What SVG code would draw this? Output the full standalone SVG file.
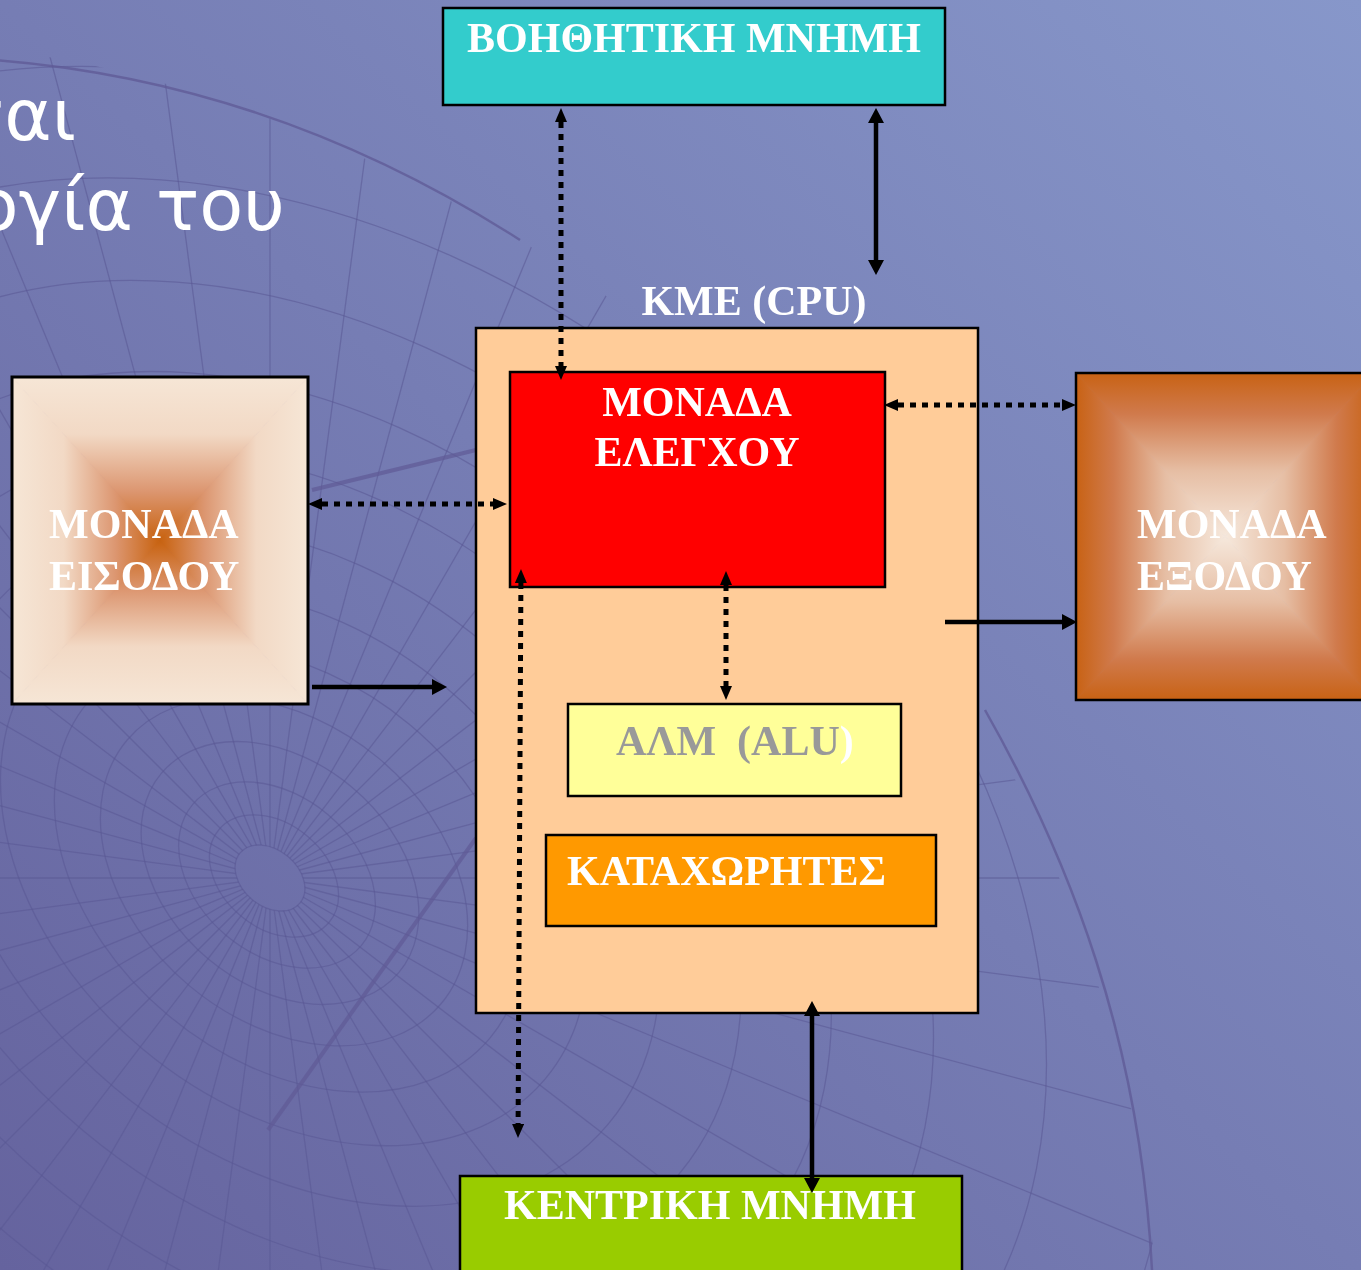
<svg xmlns="http://www.w3.org/2000/svg" width="1361" height="1270" viewBox="0 0 1361 1270">
  <defs>
    <style>
      .lbl { font-family: "Liberation Serif", "Times New Roman", serif; font-weight: bold; font-size: 42px; fill: #ffffff; }
      .title { font-family: "DejaVu Sans", "Noto Sans", sans-serif; font-weight: normal; font-size: 72px; fill: #ffffff; }
      .box { stroke: #000000; stroke-width: 2.5; }
      .grid { fill: none; stroke: #5a5794; stroke-opacity: 0.55; stroke-width: 1.3; }
      .solid { fill: none; stroke: #000000; stroke-width: 4.5; }
      .dotted { fill: none; stroke: #000000; stroke-width: 5; stroke-dasharray: 6 6; }
    </style>

    <!-- slide background -->
    <linearGradient id="bg" x1="1" y1="0" x2="0" y2="1">
      <stop offset="0" stop-color="#8797CA"/>
      <stop offset="1" stop-color="#65639E"/>
    </linearGradient>

    <!-- input unit: dark centre, light rim -->
    <linearGradient id="inStops">
      <stop offset="0" stop-color="#F6E6D6"/>
      <stop offset="0.35" stop-color="#F2D9C5"/>
      <stop offset="0.7" stop-color="#DC9670"/>
      <stop offset="1" stop-color="#C8620F"/>
    </linearGradient>
    <linearGradient id="inT" href="#inStops" gradientUnits="userSpaceOnUse" x1="0" y1="377" x2="0" y2="540.5"/>
    <linearGradient id="inB" href="#inStops" gradientUnits="userSpaceOnUse" x1="0" y1="704" x2="0" y2="540.5"/>
    <linearGradient id="inL" href="#inStops" gradientUnits="userSpaceOnUse" x1="12" y1="0" x2="160" y2="0"/>
    <linearGradient id="inR" href="#inStops" gradientUnits="userSpaceOnUse" x1="308" y1="0" x2="160" y2="0"/>

    <!-- output unit: light centre, dark rim -->
    <linearGradient id="outStops">
      <stop offset="0" stop-color="#C86214"/>
      <stop offset="0.25" stop-color="#D07A4C"/>
      <stop offset="0.6" stop-color="#E6BEA4"/>
      <stop offset="1" stop-color="#F6E8DC"/>
    </linearGradient>
    <linearGradient id="outT" href="#outStops" gradientUnits="userSpaceOnUse" x1="0" y1="373" x2="0" y2="536.5"/>
    <linearGradient id="outB" href="#outStops" gradientUnits="userSpaceOnUse" x1="0" y1="700" x2="0" y2="536.5"/>
    <linearGradient id="outL" href="#outStops" gradientUnits="userSpaceOnUse" x1="1076" y1="0" x2="1225" y2="0"/>
    <linearGradient id="outR" href="#outStops" gradientUnits="userSpaceOnUse" x1="1374" y1="0" x2="1225" y2="0"/>

    <!-- arrowheads -->
    <marker id="sa" viewBox="0 0 15 16" refX="0" refY="8" markerWidth="15" markerHeight="16" markerUnits="userSpaceOnUse" orient="auto-start-reverse">
      <path d="M0 0 L15 8 L0 16 Z" fill="#000"/>
    </marker>
    <marker id="da" viewBox="0 0 14 12" refX="0" refY="6" markerWidth="14" markerHeight="12" markerUnits="userSpaceOnUse" orient="auto-start-reverse">
      <path d="M0 0 L14 6 L0 12 Z" fill="#000"/>
    </marker>

    <!-- wireframe globe -->
    <clipPath id="globe">
      <path d="M-5 50 C200 70 450 180 640 320 C800 440 930 600 990 730 C1080 900 1140 1080 1155 1270 L-5 1270 Z"/>
    </clipPath>
    <mask id="poleHole" maskUnits="userSpaceOnUse" x="0" y="0" width="1361" height="1270">
      <rect x="0" y="0" width="1361" height="1270" fill="#fff"/>
      <ellipse cx="270" cy="878" rx="39" ry="28" transform="rotate(40 270 878)" fill="#000"/>
    </mask>
    <line id="ray" x1="270" y1="878" x2="1870" y2="878"/>
  </defs>

  <!-- background -->
  <rect x="0" y="0" width="1361" height="1270" fill="url(#bg)"/>

  <g clip-path="url(#globe)">
    <g class="grid">
      <ellipse cx="270" cy="878" rx="39" ry="28" transform="rotate(40 270 878)"/>
      <ellipse cx="274" cy="876" rx="72" ry="52" transform="rotate(40 274 876)"/>
      <ellipse cx="277" cy="875" rx="110" ry="79" transform="rotate(40 277 875)"/>
      <ellipse cx="280" cy="873" rx="155" ry="112" transform="rotate(40 280 873)"/>
      <ellipse cx="284" cy="872" rx="205" ry="148" transform="rotate(40 284 872)"/>
      <ellipse cx="289" cy="870" rx="262" ry="189" transform="rotate(40 289 870)"/>
      <ellipse cx="294" cy="868" rx="328" ry="236" transform="rotate(40 294 868)"/>
      <ellipse cx="300" cy="866" rx="402" ry="289" transform="rotate(40 300 866)"/>
      <ellipse cx="307" cy="863" rx="485" ry="349" transform="rotate(40 307 863)"/>
      <ellipse cx="314" cy="861" rx="578" ry="416" transform="rotate(40 314 861)"/>
      <ellipse cx="323" cy="858" rx="682" ry="491" transform="rotate(40 323 858)"/>
      <ellipse cx="332" cy="854" rx="798" ry="575" transform="rotate(40 332 854)"/>
      <ellipse cx="342" cy="850" rx="925" ry="666" transform="rotate(40 342 850)"/>
    </g>
    <g class="grid" mask="url(#poleHole)">
      <use href="#ray" transform="rotate(0 270 878)"/>
      <use href="#ray" transform="rotate(7.5 270 878)"/>
      <use href="#ray" transform="rotate(15 270 878)"/>
      <use href="#ray" transform="rotate(22.5 270 878)"/>
      <use href="#ray" transform="rotate(30 270 878)"/>
      <use href="#ray" transform="rotate(37.5 270 878)"/>
      <use href="#ray" transform="rotate(45 270 878)"/>
      <use href="#ray" transform="rotate(52.5 270 878)"/>
      <use href="#ray" transform="rotate(60 270 878)"/>
      <use href="#ray" transform="rotate(67.5 270 878)"/>
      <use href="#ray" transform="rotate(75 270 878)"/>
      <use href="#ray" transform="rotate(82.5 270 878)"/>
      <use href="#ray" transform="rotate(90 270 878)"/>
      <use href="#ray" transform="rotate(97.5 270 878)"/>
      <use href="#ray" transform="rotate(105 270 878)"/>
      <use href="#ray" transform="rotate(112.5 270 878)"/>
      <use href="#ray" transform="rotate(120 270 878)"/>
      <use href="#ray" transform="rotate(127.5 270 878)"/>
      <use href="#ray" transform="rotate(135 270 878)"/>
      <use href="#ray" transform="rotate(142.5 270 878)"/>
      <use href="#ray" transform="rotate(150 270 878)"/>
      <use href="#ray" transform="rotate(157.5 270 878)"/>
      <use href="#ray" transform="rotate(165 270 878)"/>
      <use href="#ray" transform="rotate(172.5 270 878)"/>
      <use href="#ray" transform="rotate(180 270 878)"/>
      <use href="#ray" transform="rotate(187.5 270 878)"/>
      <use href="#ray" transform="rotate(195 270 878)"/>
      <use href="#ray" transform="rotate(202.5 270 878)"/>
      <use href="#ray" transform="rotate(210 270 878)"/>
      <use href="#ray" transform="rotate(217.5 270 878)"/>
      <use href="#ray" transform="rotate(225 270 878)"/>
      <use href="#ray" transform="rotate(232.5 270 878)"/>
      <use href="#ray" transform="rotate(240 270 878)"/>
      <use href="#ray" transform="rotate(247.5 270 878)"/>
      <use href="#ray" transform="rotate(255 270 878)"/>
      <use href="#ray" transform="rotate(262.5 270 878)"/>
      <use href="#ray" transform="rotate(270 270 878)"/>
      <use href="#ray" transform="rotate(277.5 270 878)"/>
      <use href="#ray" transform="rotate(285 270 878)"/>
      <use href="#ray" transform="rotate(292.5 270 878)"/>
      <use href="#ray" transform="rotate(300 270 878)"/>
      <use href="#ray" transform="rotate(307.5 270 878)"/>
      <use href="#ray" transform="rotate(315 270 878)"/>
      <use href="#ray" transform="rotate(322.5 270 878)"/>
      <use href="#ray" transform="rotate(330 270 878)"/>
      <use href="#ray" transform="rotate(337.5 270 878)"/>
      <use href="#ray" transform="rotate(345 270 878)"/>
      <use href="#ray" transform="rotate(352.5 270 878)"/>
    </g>
    <!-- heavier accent strokes of the globe -->
    <g fill="none" stroke="#5f5a96" stroke-opacity="0.7" stroke-width="4">
      <path d="M312 490 L476 450"/>
      <path d="M268 1130 L476 838"/>
    </g>
  </g>
  <!-- globe rim -->
  <g fill="none" stroke="#5f5a96" stroke-opacity="0.75" stroke-width="2.5">
    <path d="M-5 60 C150 72 330 118 520 240"/>
    <path d="M985 710 C1070 860 1140 1040 1152 1270"/>
  </g>

  <!-- slide title, partly hidden at the left edge -->
  <text class="title" x="76" y="140" text-anchor="end">ται</text>
  <text class="title" x="285" y="230" text-anchor="end">ογία του</text>

  <!-- auxiliary memory -->
  <g id="aux-memory">
    <rect class="box" x="443" y="8" width="502" height="97" fill="#33CCCC"/>
    <text class="lbl" x="694" y="52" text-anchor="middle">ΒΟΗΘΗΤΙΚΗ ΜΝΗΜΗ</text>
  </g>

  <!-- central processing unit -->
  <g id="cpu">
    <text class="lbl" x="754" y="315" text-anchor="middle">ΚΜΕ (CPU)</text>
    <rect class="box" x="476" y="328" width="502" height="685" fill="#FFCC99"/>
  </g>

  <g id="control-unit">
    <rect class="box" x="510" y="372" width="375" height="215" fill="#FF0000"/>
    <text class="lbl" x="697" y="416" text-anchor="middle">ΜΟΝΑΔΑ</text>
    <text class="lbl" x="697" y="466" text-anchor="middle">ΕΛΕΓΧΟΥ</text>
  </g>

  <g id="alu">
    <rect class="box" x="568" y="704" width="333" height="92" fill="#FFFF99"/>
    <text class="lbl" x="616" y="755" style="white-space:pre"><tspan fill="#999999">ΑΛΜ  (ALU</tspan><tspan fill="#ffffff">)</tspan></text>
  </g>

  <g id="registers">
    <rect class="box" x="546" y="835" width="390" height="91" fill="#FF9900"/>
    <text class="lbl" x="567" y="885">ΚΑΤΑΧΩΡΗΤΕΣ</text>
  </g>

  <!-- input unit -->
  <g id="input-unit">
    <g stroke-width="1">
      <polygon points="12,377 308,377 160,540.5" fill="url(#inT)" stroke="url(#inT)"/>
      <polygon points="12,704 308,704 160,540.5" fill="url(#inB)" stroke="url(#inB)"/>
      <polygon points="12,377 12,704 160,540.5" fill="url(#inL)" stroke="url(#inL)"/>
      <polygon points="308,377 308,704 160,540.5" fill="url(#inR)" stroke="url(#inR)"/>
    </g>
    <rect x="12" y="377" width="296" height="327" fill="none" stroke="#000" stroke-width="3"/>
    <text class="lbl" x="49" y="538">ΜΟΝΑΔΑ</text>
    <text class="lbl" x="49" y="590">ΕΙΣΟΔΟΥ</text>
  </g>

  <!-- output unit -->
  <g id="output-unit">
    <g stroke-width="1">
      <polygon points="1076,373 1374,373 1225,536.5" fill="url(#outT)" stroke="url(#outT)"/>
      <polygon points="1076,700 1374,700 1225,536.5" fill="url(#outB)" stroke="url(#outB)"/>
      <polygon points="1076,373 1076,700 1225,536.5" fill="url(#outL)" stroke="url(#outL)"/>
      <polygon points="1374,373 1374,700 1225,536.5" fill="url(#outR)" stroke="url(#outR)"/>
    </g>
    <rect x="1076" y="373" width="298" height="327" fill="none" stroke="#000" stroke-width="2.5"/>
    <text class="lbl" x="1137" y="538">ΜΟΝΑΔΑ</text>
    <text class="lbl" x="1137" y="590">ΕΞΟΔΟΥ</text>
  </g>

  <!-- main memory -->
  <g id="main-memory">
    <rect class="box" x="460" y="1176" width="502" height="110" fill="#99CC00"/>
    <text class="lbl" x="710" y="1219" text-anchor="middle">ΚΕΝΤΡΙΚΗ ΜΝΗΜΗ</text>
  </g>

  <!-- connectors -->
  <g id="connectors">
    <line class="dotted" x1="561" y1="122" x2="561" y2="366" marker-start="url(#da)" marker-end="url(#da)"/>
    <line class="solid" x1="876" y1="123" x2="876" y2="260" marker-start="url(#sa)" marker-end="url(#sa)"/>
    <line class="dotted" x1="898" y1="405" x2="1062" y2="405" marker-start="url(#da)" marker-end="url(#da)"/>
    <line class="dotted" x1="322" y1="504" x2="493" y2="504" marker-start="url(#da)" marker-end="url(#da)"/>
    <line class="solid" x1="312" y1="687" x2="432" y2="687" marker-end="url(#sa)"/>
    <line class="solid" x1="945" y1="622" x2="1062" y2="622" marker-end="url(#sa)"/>
    <line class="dotted" x1="726" y1="585" x2="726" y2="686" marker-start="url(#da)" marker-end="url(#da)"/>
    <line class="dotted" x1="520.9" y1="583" x2="518.1" y2="1124" marker-start="url(#da)" marker-end="url(#da)"/>
    <line class="solid" x1="812" y1="1016" x2="812" y2="1178" marker-start="url(#sa)" marker-end="url(#sa)"/>
  </g>
</svg>
